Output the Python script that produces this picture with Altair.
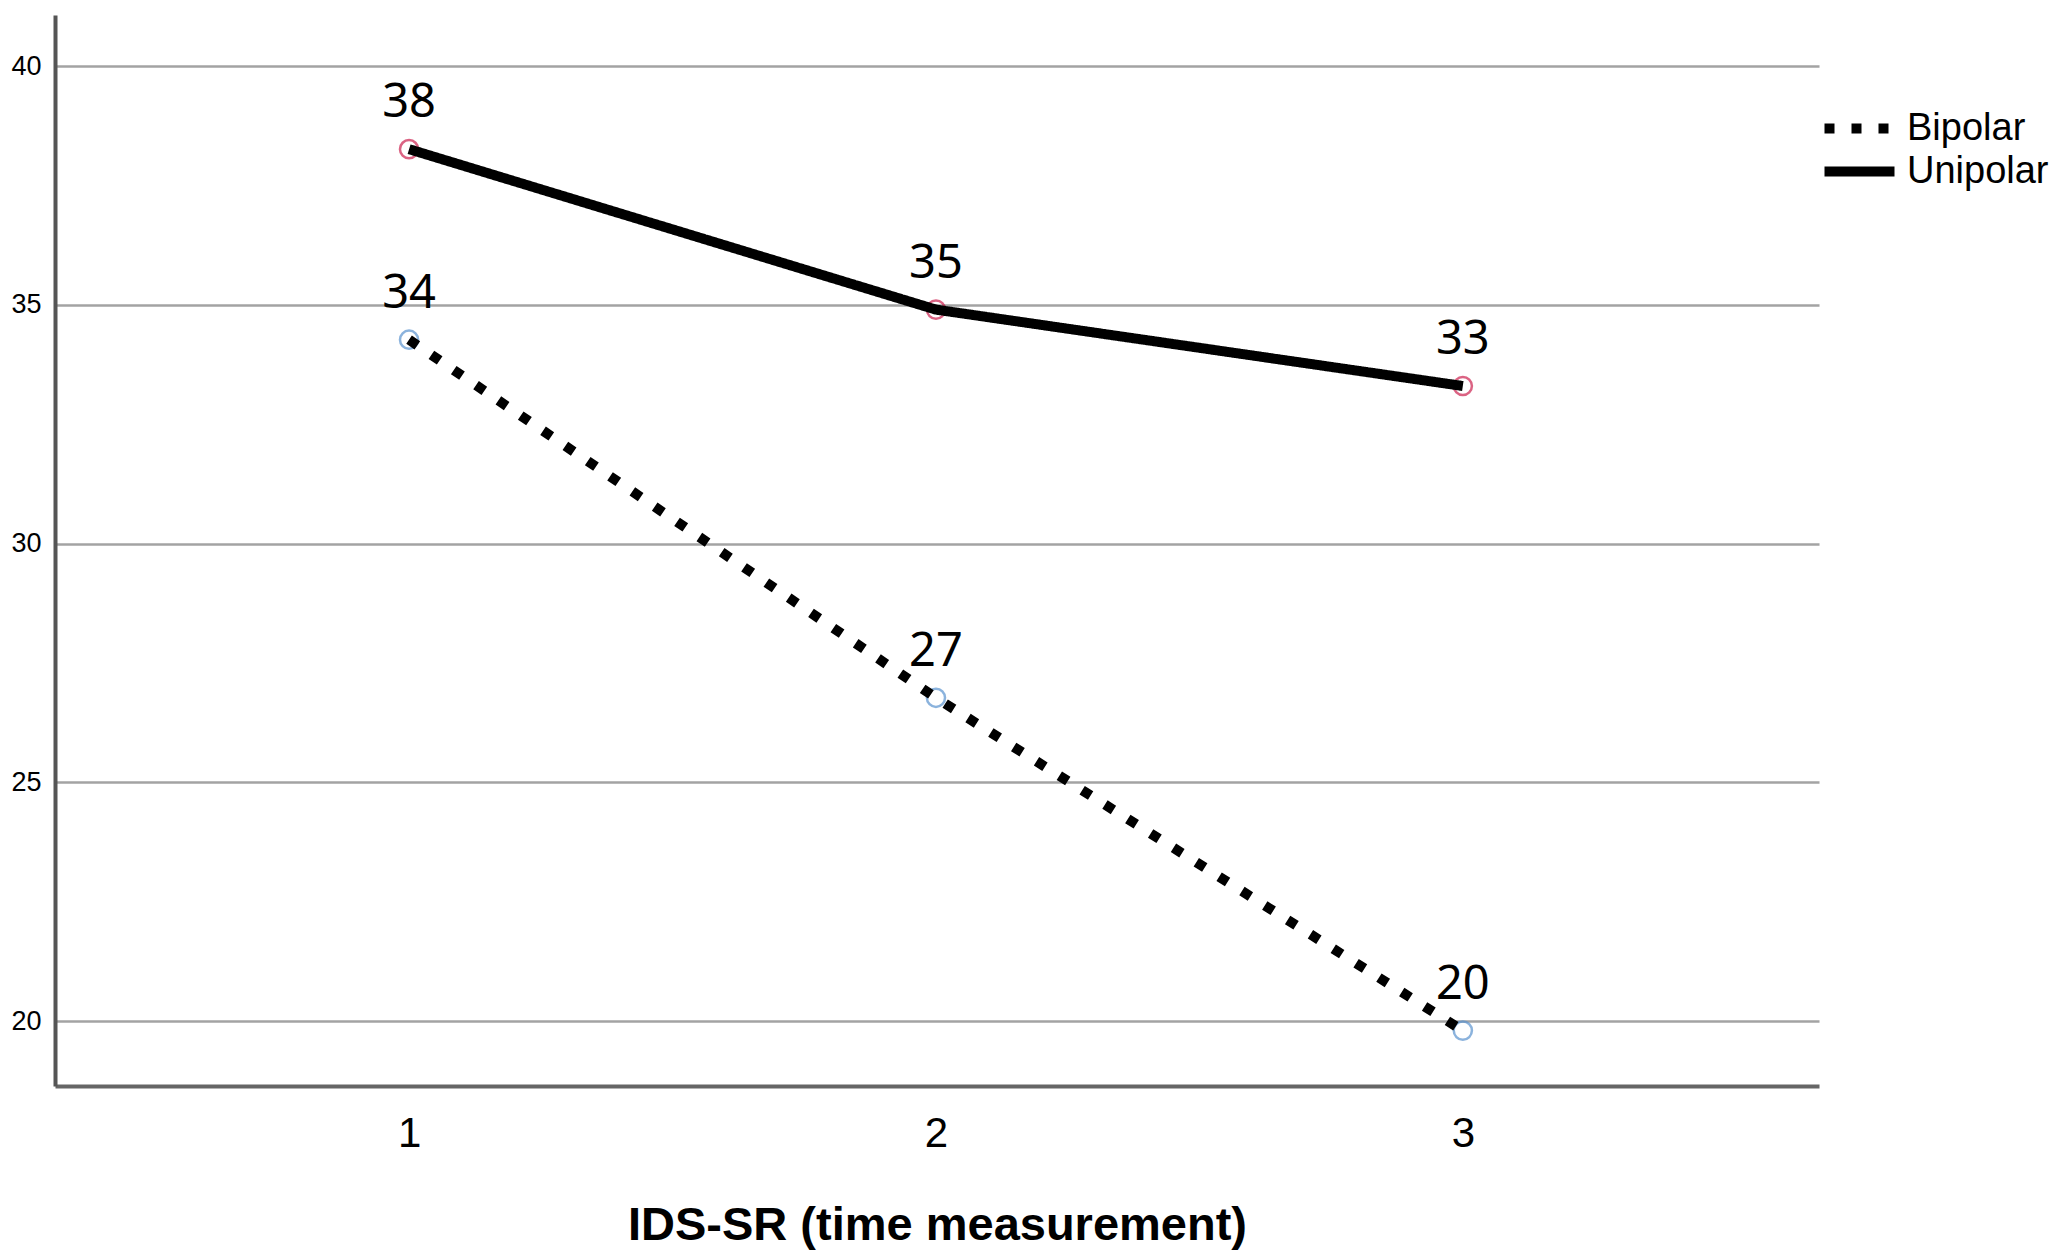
import altair as alt
import pandas as pd

# Data
times = [1, 2, 3]
groups = ["Bipolar", "Unipolar"]
bipolar = [34.27, 26.77, 19.80]
unipolar = [38.26, 34.90, 33.30]
bipolar_labels = ["34", "27", "20"]
unipolar_labels = ["38", "35", "33"]
y_ticks = [20, 25, 30, 35, 40]
x_ticks = [1, 2, 3]

rows = []
for t, v, lab in zip(times, bipolar, bipolar_labels):
    rows.append({"time": t, "value": v, "group": "Bipolar", "label": lab})
for t, v, lab in zip(times, unipolar, unipolar_labels):
    rows.append({"time": t, "value": v, "group": "Unipolar", "label": lab})
df = pd.DataFrame(rows)

x_enc = alt.X(
    "time:Q",
    scale=alt.Scale(domain=[0.328, 3.676], nice=False, zero=False),
    axis=alt.Axis(
        values=x_ticks, format="d", grid=False, ticks=False,
        domainColor="#666666", domainWidth=4,
        labelFont="Liberation Sans", labelFontSize=42, labelColor="black",
        labelPadding=27,
        title="IDS-SR (time measurement)", titleFont="Liberation Sans",
        titleFontSize=47, titleFontWeight="bold", titleColor="black",
        titlePadding=48,
    ),
)
y_enc = alt.Y(
    "value:Q",
    scale=alt.Scale(domain=[18.64, 41.07], nice=False, zero=False),
    axis=alt.Axis(
        values=y_ticks, grid=True, gridColor="#a3a3a3", gridWidth=2.5,
        ticks=False, domainColor="#555555", domainWidth=4,
        labelFont="Liberation Sans", labelFontSize=27,
        labelColor="black", labelPadding=14, title=None,
    ),
)

base = alt.Chart(df).encode(x=x_enc, y=y_enc)

# colour scale domain given in a different order so its (hidden) legend
# is not merged with the line-style legend
points = base.mark_point(shape="circle", filled=False, size=330, strokeWidth=2.5).encode(
    color=alt.Color(
        "group:N",
        scale=alt.Scale(domain=["Unipolar", "Bipolar"], range=["#cc2250", "#5b93cf"]),
        legend=None,
    )
)

lines = base.mark_line(color="black", strokeWidth=10).encode(
    strokeDash=alt.StrokeDash(
        "group:N",
        scale=alt.Scale(domain=groups, range=[[10, 17], [1, 0]]),
        legend=alt.Legend(
            title=None, orient="none", legendX=1782, legendY=91,
            symbolType="M-2,0L2,0", symbolSize=1225, symbolStrokeWidth=10,
            symbolStrokeColor="black", symbolFillColor="transparent",
            rowPadding=0, padding=0,
            labelFont="Liberation Sans", labelFontSize=38, labelColor="black",
            labelOffset=25,
        ),
    ),
    order="time:Q",
)

labels = base.mark_text(
    dy=-46, fontSize=47, font="Noto Sans", color="black", baseline="middle"
).encode(text="label:N")

chart = (
    alt.layer(points, lines, labels)
    .properties(
        width=1764,
        height=1071,
        padding={"left": 47, "top": 7, "right": 240, "bottom": 165},
        autosize=alt.AutoSizeParams(type="none"),
        background="white",
    )
    .configure_view(stroke=None)
)

chart.save("out.html", embed_options={"renderer": "svg", "actions": False})
